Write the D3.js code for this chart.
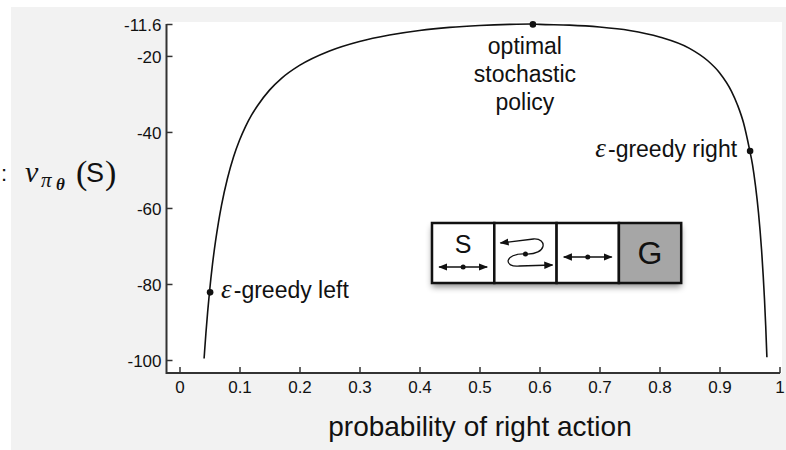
<!DOCTYPE html>
<html>
<head>
<meta charset="utf-8">
<script src="https://cdn.jsdelivr.net/npm/d3@7"></script>
<style>
  body { margin: 0; background: #fff; }
  text { fill: #111; }
</style>
</head>
<body>
<script>
// valores: probabilidad de accion derecha -> valor del estado inicial
var probs  = [0.041, 0.042, 0.044, 0.047, 0.05, 0.055, 0.06, 0.065, 0.07, 0.08, 0.09, 0.1, 0.11, 0.12, 0.13,
              0.15, 0.17, 0.2, 0.25, 0.3, 0.35, 0.4, 0.45, 0.5, 0.55, 0.586, 0.6, 0.65, 0.7, 0.75, 0.8,
              0.85, 0.88, 0.9, 0.92, 0.93, 0.94, 0.95, 0.955, 0.96, 0.965, 0.97, 0.975, 0.977, 0.979]
var values = [-99.6, -97.3, -93.0, -87.2, -82.1, -74.8, -68.8, -63.7, -59.3, -52.2, -46.6, -42.2, -38.6, -35.6, -33.1,
              -29.0, -25.9, -22.5, -18.7, -16.2, -14.5, -13.3, -12.5, -12.0, -11.7, -11.6, -11.7, -11.9, -12.4, -13.3, -15.0,
              -18.0, -21.2, -24.4, -29.3, -32.9, -37.6, -44.6, -48.6, -54.2, -61.3, -70.8, -84.1, -91.0, -99.3]

// puntos marcados
var marcas = [
    {p: 0.051, v: -82.2, nombre: "left"},
    {p: 0.589, v: -11.7, nombre: "optimal"},
    {p: 0.951, v: -45.0, nombre: "right"}
]

var xTicks = [0, 0.1, 0.2, 0.3, 0.4, 0.5, 0.6, 0.7, 0.8, 0.9, 1]
var yTicks = [-11.6, -20, -40, -60, -80, -100]

var datos = probs.map((p, i) => ({p: p, v: values[i]}))

var SANS = "'Liberation Sans', Arial, Helvetica, sans-serif"
var SERIF = "'Liberation Serif', 'Times New Roman', serif"

var svg = d3.select("body").append("svg")
    .attr("width", 786)
    .attr("height", 450)
    .style("font-family", SANS)

var defs = svg.append("defs")
defs.append("filter").attr("id", "sombra")
    .attr("x", "-10%").attr("y", "-20%").attr("width", "120%").attr("height", "160%")
    .append("feDropShadow")
    .attr("dx", 0).attr("dy", 4).attr("stdDeviation", 3)
    .attr("flood-color", "#000").attr("flood-opacity", 0.45)

defs.append("marker").attr("id", "flecha")
    .attr("viewBox", "0 0 10 10").attr("refX", 9).attr("refY", 5)
    .attr("markerWidth", 7).attr("markerHeight", 7)
    .attr("orient", "auto-start-reverse")
    .append("path").attr("d", "M0,1 L10,5 L0,9 z").attr("fill", "#111")

// fondo gris y zona blanca del grafico
svg.append("rect").attr("x", 11).attr("y", 7).attr("width", 775).attr("height", 443).attr("fill", "#f2f2f2")
svg.append("rect").attr("x", 166).attr("y", 22).attr("width", 616).attr("height", 351).attr("fill", "#fff")

var x = d3.scaleLinear().domain([0, 1]).range([179.5, 779.5])
var y = d3.scaleLinear().domain([-100, -11.6]).range([360, 24])

// ejes
var ejeX = svg.append("g")
    .attr("transform", "translate(0,373)")
    .call(d3.axisTop(x).tickValues(xTicks).tickSize(6).tickFormat(d3.format("")))
ejeX.select(".domain").attr("d", "M166.5,0H780").attr("stroke", "#333").attr("stroke-width", 2)
ejeX.selectAll(".tick line").attr("stroke", "#333").attr("stroke-width", 1.5)
ejeX.selectAll(".tick text")
    .attr("y", 20).attr("dy", 0)
    .attr("fill", "#111")
    .style("font-size", "17px").style("font-family", SANS)

var ejeY = svg.append("g")
    .attr("transform", "translate(166.5,0)")
    .call(d3.axisRight(y).tickValues(yTicks).tickSize(6).tickFormat(d => d))
ejeY.select(".domain").attr("d", "M0,24V374").attr("stroke", "#333").attr("stroke-width", 2)
ejeY.selectAll(".tick line").attr("stroke", "#333").attr("stroke-width", 1.5)
ejeY.selectAll(".tick text")
    .attr("x", -5).attr("dy", "0.36em")
    .attr("text-anchor", "end")
    .attr("fill", "#111")
    .style("font-size", "17px").style("font-family", SANS)

// curva
var linea = d3.line()
    .x(d => x(d.p))
    .y(d => y(d.v))
    .curve(d3.curveMonotoneX)

svg.append("path")
    .datum(datos)
    .attr("d", linea)
    .attr("fill", "none")
    .attr("stroke", "#111")
    .attr("stroke-width", 1.6)

svg.selectAll("circle.marca")
    .data(marcas)
    .enter()
    .append("circle")
    .attr("class", "marca")
    .attr("cx", d => x(d.p))
    .attr("cy", d => y(d.v))
    .attr("r", 3.3)
    .attr("fill", "#111")

// etiquetas de los puntos
var fs = "23px"
var izq = svg.append("text").attr("x", x(0.051) + 11).attr("y", y(-82.2) + 6).style("font-size", fs)
izq.append("tspan").style("font-family", SERIF).style("font-style", "italic").style("font-size", "27px").text("ε")
izq.append("tspan").attr("dx", 2).text("-greedy left")

var der = svg.append("text").attr("x", x(0.951) - 13).attr("y", y(-45) + 6).style("font-size", fs).attr("text-anchor", "end")
der.append("tspan").style("font-family", SERIF).style("font-style", "italic").style("font-size", "27px").text("ε")
der.append("tspan").attr("dx", 2).text("-greedy right")

var opt = svg.append("text").style("font-size", fs).attr("text-anchor", "middle")
;["optimal", "stochastic", "policy"].forEach((t, i) => {
    opt.append("tspan").attr("x", x(0.589) - 8).attr("y", 54 + i * 28).text(t)
})

// etiquetas de ejes
svg.append("text")
    .attr("x", 480).attr("y", 436)
    .attr("text-anchor", "middle")
    .style("font-size", "28px")
    .text("probability of right action")

var ly = svg.append("g")
ly.append("text").attr("x", 1).attr("y", 181).style("font-size", "22px").text(":")
ly.append("text").attr("x", 25).attr("y", 182).style("font-family", SERIF)
    .style("font-style", "italic").style("font-size", "30px").text("v")
ly.append("text").attr("x", 41).attr("y", 187).style("font-family", SERIF)
    .style("font-style", "italic").style("font-size", "21px").text("π")
ly.append("text").attr("x", 56).attr("y", 190).style("font-family", SERIF)
    .style("font-style", "italic").style("font-weight", "bold").style("font-size", "17px").text("θ")
ly.append("text").attr("x", 76).attr("y", 184).style("font-family", SERIF)
    .style("font-size", "34px").text("(")
ly.append("text").attr("x", 86).attr("y", 182).style("font-size", "27px").text("S")
ly.append("text").attr("x", 105).attr("y", 184).style("font-family", SERIF)
    .style("font-size", "34px").text(")")

// recuadro del pasillo
var celdas = ["S", "", "", "G"]
var cx0 = 432, cw = 62.3, cy0 = 223, ch = 60
var pasillo = svg.append("g")
pasillo.append("rect")
    .attr("x", cx0).attr("y", cy0).attr("width", cw * 4).attr("height", ch)
    .attr("fill", "#fff").attr("filter", "url(#sombra)")
pasillo.selectAll("rect.celda")
    .data(celdas)
    .enter()
    .append("rect")
    .attr("class", "celda")
    .attr("x", (d, i) => cx0 + i * cw).attr("y", cy0)
    .attr("width", cw).attr("height", ch)
    .attr("fill", d => d == "G" ? "#a6a6a6" : "#fff")
    .attr("stroke", "#111").attr("stroke-width", 2.5)

pasillo.append("text").attr("x", cx0 + cw / 2).attr("y", 253).attr("text-anchor", "middle").style("font-size", "25px").text("S")
pasillo.append("text").attr("x", cx0 + cw * 3.5).attr("y", 264).attr("text-anchor", "middle").style("font-size", "32px").text("G")

function dobleFlecha(xc, yc) {
    pasillo.append("line")
        .attr("x1", xc - 24).attr("x2", xc + 24).attr("y1", yc).attr("y2", yc)
        .attr("stroke", "#111").attr("stroke-width", 1.3)
        .attr("marker-start", "url(#flecha)").attr("marker-end", "url(#flecha)")
    pasillo.append("circle").attr("cx", xc).attr("cy", yc).attr("r", 2.5).attr("fill", "#111")
}
dobleFlecha(cx0 + cw / 2, 267)
dobleFlecha(cx0 + cw * 2.5, 257)

// celda con acciones invertidas
var mx = cx0 + cw * 1.5, my = 254
pasillo.append("path")
    .attr("d", "M" + mx + "," + my + " C" + (mx + 22) + "," + (my + 1) + " " + (mx + 22) + "," + (my - 16) + " " + (mx + 8) + "," + (my - 15) +
               " L" + (mx - 25) + "," + (my - 11))
    .attr("fill", "none").attr("stroke", "#111").attr("stroke-width", 1.3)
    .attr("marker-end", "url(#flecha)")
pasillo.append("path")
    .attr("d", "M" + mx + "," + my + " C" + (mx - 22) + "," + (my - 1) + " " + (mx - 22) + "," + (my + 14) + " " + (mx - 6) + "," + (my + 12) +
               " L" + (mx + 27) + "," + (my + 11))
    .attr("fill", "none").attr("stroke", "#111").attr("stroke-width", 1.3)
    .attr("marker-end", "url(#flecha)")
pasillo.append("circle").attr("cx", mx).attr("cy", my).attr("r", 2.5).attr("fill", "#111")
</script>
</body>
</html>
